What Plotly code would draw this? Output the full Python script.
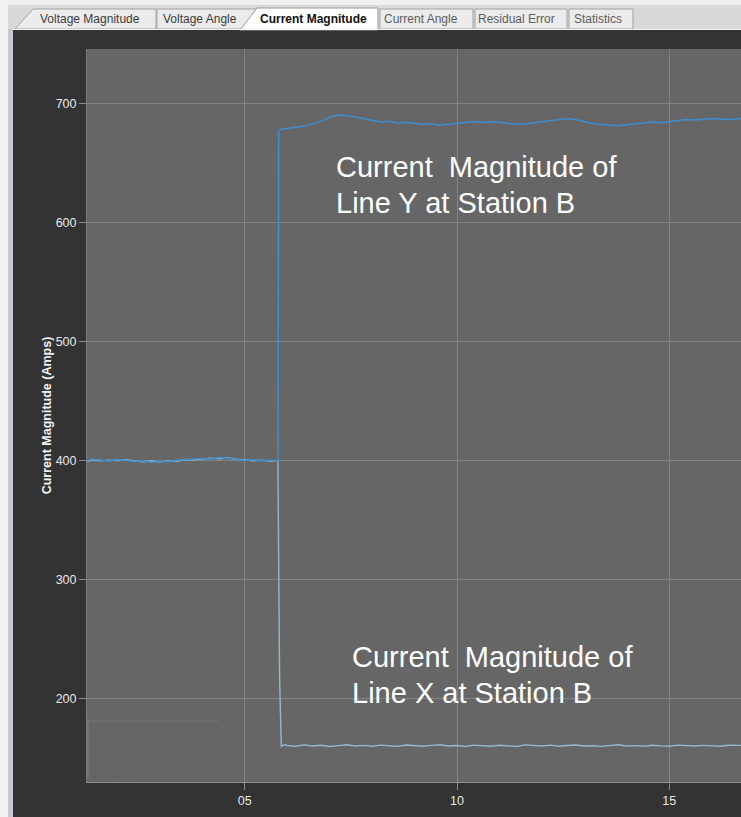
import plotly.graph_objects as go

# ---------------- data ----------------
pre_time = [1.28, 1.4, 1.6, 1.8, 2.0, 2.2, 2.4, 2.6, 2.8, 3.0, 3.2, 3.4,
            3.6, 3.8, 4.0, 4.2, 4.4, 4.6, 4.8, 5.0, 5.2, 5.4, 5.6, 5.78]
post_time = [6.0, 6.2, 6.4, 6.6, 6.8, 7.0, 7.2, 7.4, 7.6, 7.8, 8.0, 8.2, 8.4,
             8.6, 8.8, 9.0, 9.2, 9.4, 9.6, 9.8, 10.0, 10.2, 10.4, 10.6, 10.8,
             11.0, 11.2, 11.4, 11.6, 11.8, 12.0, 12.2, 12.4, 12.6, 12.8, 13.0,
             13.2, 13.4, 13.6, 13.8, 14.0, 14.2, 14.4, 14.6, 14.8, 15.0, 15.2,
             15.4, 15.6, 15.8, 16.0, 16.2, 16.4, 16.6, 16.8]

lineY_pre = [399.5, 400.8, 400.2, 399.3, 400.6, 399.8, 398.9, 399.6, 398.4, 399.2,
             398.8, 399.9, 400.3, 400.8, 401.5, 401.1, 402.2, 401.4, 400.6, 399.8,
             400.4, 399.5, 399.9, 399.6]
lineY_step_time = [5.80, 5.85, 5.93]
lineY_step = [677.0, 678.2, 678.6]
lineY_post = [679.0, 679.8, 680.6, 682.5, 684.8, 688.2, 690.1, 689.4, 688.6, 686.9,
              685.7, 684.3, 684.8, 683.4, 684.0, 682.9, 682.1, 682.8, 681.6, 682.4,
              683.3, 684.1, 684.6, 683.9, 684.4, 684.0, 683.2, 682.3, 682.6, 683.5,
              684.2, 685.3, 686.4, 687.1, 686.2, 684.5, 683.0, 682.1, 681.8, 681.2,
              682.0, 682.9, 683.7, 684.2, 683.6, 684.4, 685.5, 686.3, 686.0, 686.6,
              687.2, 686.8, 686.2, 687.0, 687.1]

lineX_pre = [399.0, 400.2, 399.5, 400.1, 399.8, 400.4, 399.4, 398.7, 399.3, 398.6,
             399.5, 399.1, 400.6, 400.2, 401.0, 401.8, 401.3, 402.0, 400.9, 400.2,
             399.6, 400.1, 399.2, 399.8]
lineX_step_time = [5.82, 5.86, 5.93]
lineX_step = [217.0, 159.6, 160.9]
lineX_post = [160.3, 159.6, 160.8, 159.9, 160.5, 159.4, 160.2, 160.9, 159.8, 160.4,
              159.7, 160.6, 160.1, 159.5, 160.7, 160.0, 159.6, 160.4, 160.9, 159.8,
              160.3, 159.5, 160.6, 160.1, 159.7, 160.5, 160.0, 159.4, 160.8, 160.2,
              159.9, 160.6, 159.6, 160.3, 160.7, 159.8, 160.1, 159.5, 160.4, 160.9,
              159.9, 160.2, 159.6, 160.5, 160.0, 159.7, 160.6, 160.3, 159.8, 160.4,
              160.0, 159.6, 160.5, 160.1, 160.3]

y_ticks = [200, 300, 400, 500, 600, 700]
x_ticks = [5, 10, 15]
x_ticklabels = ["05", "10", "15"]
tab_labels = ["Voltage Magnitude", "Voltage Angle", "Current Magnitude",
              "Current Angle", "Residual Error", "Statistics"]
label_Y = ["Current\u00a0 Magnitude of", "Line Y at Station B"]
label_X = ["Current\u00a0 Magnitude of", "Line X at Station B"]

# ---------------- layout helpers ----------------
W, H = 741, 817
L, R, T, B = 87, 0, 49, 35
PW, PH = W - L - R, H - T - B


def PX(x):
    return (x - L) / PW


def PY(y):
    return (H - B - y) / PH


def poly(pts):
    s = "M " + " L ".join(f"{PX(x):.5f},{PY(y):.5f}" for x, y in pts) + " Z"
    return s


fig = go.Figure()

fig.add_trace(go.Scatter(
    x=pre_time + lineX_step_time + post_time,
    y=lineX_pre + lineX_step + lineX_post,
    mode="lines", line=dict(color="#8fb9d3", width=1.4),
    showlegend=False, hoverinfo="skip"))
fig.add_trace(go.Scatter(
    x=pre_time + lineY_step_time + post_time,
    y=lineY_pre + lineY_step + lineY_post,
    mode="lines", line=dict(color="#3d8fd3", width=1.5),
    showlegend=False, hoverinfo="skip"))

shapes = []
# tab strip background
shapes.append(dict(type="rect", xref="paper", yref="paper", x0=PX(0), x1=PX(W), y0=PY(30), y1=PY(0),
                   fillcolor="#d9d9d9", line=dict(width=0), layer="above"))
shapes.append(dict(type="rect", xref="paper", yref="paper", x0=PX(0), x1=PX(W), y0=PY(5), y1=PY(0),
                   fillcolor="#f0f0f0", line=dict(width=0), layer="above"))
# left light border
shapes.append(dict(type="rect", xref="paper", yref="paper", x0=PX(0), x1=PX(8), y0=PY(H), y1=PY(0),
                   fillcolor="#f2f2f2", line=dict(width=0), layer="above"))
shapes.append(dict(type="rect", xref="paper", yref="paper", x0=PX(8), x1=PX(13), y0=PY(H), y1=PY(29),
                   fillcolor="#c6c9d0", line=dict(width=0), layer="above"))
# inactive tabs
tab_polys = [
    [(15, 29), (33, 9), (156, 9), (156, 29)],
    [(157, 29), (157, 9), (258, 9), (258, 29)],
    None,
    [(380, 29), (380, 9), (473, 9), (473, 29)],
    [(475, 29), (475, 9), (567, 9), (567, 29)],
    [(569, 29), (569, 9), (633, 9), (633, 29)],
]
for p in tab_polys:
    if p is None:
        continue
    shapes.append(dict(type="path", xref="paper", yref="paper", path=poly(p),
                       fillcolor="#ebebeb", line=dict(color="#a3a3a3", width=1), layer="above"))
# active tab
shapes.append(dict(type="path", xref="paper", yref="paper",
                   path=poly([(240, 30), (257, 8), (378, 8), (378, 30)]),
                   fillcolor="#ffffff", line=dict(color="#9a9a9a", width=1), layer="above"))
# line under tabs
shapes.append(dict(type="line", xref="paper", yref="paper", x0=PX(13), x1=PX(W), y0=PY(29.5), y1=PY(29.5),
                   line=dict(color="#f4f4f4", width=1), layer="above"))
# faint legend remnant box in the lower left
shapes.append(dict(type="line", xref="paper", yref="paper", x0=PX(87), x1=PX(218), y0=PY(721), y1=PY(721),
                   line=dict(color="#767676", width=1), layer="above"))
shapes.append(dict(type="line", xref="paper", yref="paper", x0=PX(88), x1=PX(88), y0=PY(718), y1=PY(778),
                   line=dict(color="#787878", width=1.5), layer="above"))
shapes.append(dict(type="line", xref="paper", yref="paper", x0=PX(94), x1=PX(136), y0=PY(777), y1=PY(777),
                   line=dict(color="#5a5a5a", width=1, dash="dot"), layer="above"))

annotations = []
tab_centers = [90, 200, 313, 421, 516, 598]
tab_colors = ["#3c3c3c", "#3c3c3c", "#111111", "#5e5e5e", "#5e5e5e", "#5e5e5e"]
for i, (lab, cx) in enumerate(zip(tab_labels, tab_centers)):
    bold = (i == 2)
    annotations.append(dict(
        xref="paper", yref="paper", x=PX(cx), y=PY(19.5), xanchor="center", yanchor="middle",
        text=f"<b>{lab}</b>" if bold else lab, showarrow=False,
        font=dict(family="Liberation Sans, Arial, sans-serif", size=12, color=tab_colors[i])))

for lines, x0, ys in [(label_Y, 335, [167, 203]), (label_X, 351, [657, 693])]:
    for txt, yc in zip(lines, ys):
        annotations.append(dict(
            xref="paper", yref="paper", x=PX(x0), y=PY(yc), xanchor="left", yanchor="middle",
            text=txt, showarrow=False, borderpad=0,
            font=dict(family="Liberation Sans, Arial, sans-serif", size=29, color="#ffffff")))

fig.update_layout(
    width=W, height=H,
    margin=dict(l=L, r=R, t=T, b=B, pad=0),
    paper_bgcolor="#333333",
    plot_bgcolor="#666666",
    showlegend=False,
    shapes=shapes,
    annotations=annotations,
    font=dict(family="Liberation Sans, Arial, sans-serif", color="#e8e8e8"),
)
fig.update_xaxes(
    range=[1.283, 16.69], tickvals=x_ticks, ticktext=x_ticklabels,
    ticks="outside", ticklen=7, tickcolor="#8c8c8c", tickwidth=1,
    showgrid=True, gridcolor="#838383", gridwidth=1, zeroline=False,
    showline=True, linecolor="#8c8c8c", linewidth=1,
    tickfont=dict(size=12.5, color="#e8e8e8"),
)
fig.update_yaxes(
    range=[129.6, 745.6], tickvals=y_ticks,
    ticks="outside", ticklen=7, tickcolor="#8c8c8c", tickwidth=1,
    showgrid=True, gridcolor="#838383", gridwidth=1, zeroline=False,
    showline=True, linecolor="#7a7a7a", linewidth=1,
    tickfont=dict(size=12.5, color="#e8e8e8"),
    title=dict(text="<b>Current Magnitude (Amps)</b>", standoff=1,
               font=dict(size=12.5, color="#f2f2f2")),
)

fig.write_html("out.html", post_script="document.body.style.margin='0';",
               config={"displayModeBar": False})
